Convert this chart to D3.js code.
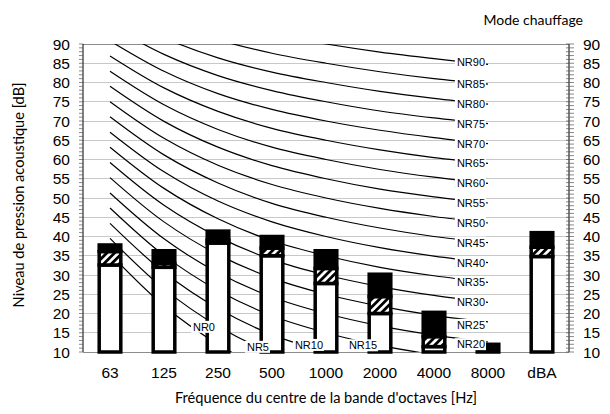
<!DOCTYPE html>
<html>
<head>
<meta charset="utf-8">
<script src="https://cdn.jsdelivr.net/npm/d3@7"></script>
<style>
  body { margin: 0; background: #fff; }
  svg { display: block; }
</style>
</head>
<body>
<script>
// octave bands + overall dBA
const categories = ["63", "125", "250", "500", "1000", "2000", "4000", "8000", "dBA"];
// three stacked levels per band (dB)
const baseLevel  = [32.6, 32.0, 38.3, 35.0, 27.8, 20.0, 11.4, 10.0, 34.8];
const hatchLevel = [36.1, 33.0, 39.1, 37.0, 31.7, 24.4, 14.0, 10.0, 37.2];
const peakLevel  = [37.8, 36.3, 41.4, 40.0, 36.3, 30.2, 20.3, 12.0, 41.0];

// NR curves, values at 63 ... 8000 Hz
const nrBands = ["63", "125", "250", "500", "1000", "2000", "4000", "8000"];
const nrNames = ["NR0", "NR5", "NR10", "NR15", "NR20", "NR25", "NR30", "NR35", "NR40", "NR45",
                 "NR50", "NR55", "NR60", "NR65", "NR70", "NR75", "NR80", "NR85", "NR90"];
const nrValues = [
  [35.5, 22.0, 12.0, 4.8, 0, -3.5, -6.1, -8.0],
  [39.5, 26.4, 16.7, 9.7, 5, 1.6, -1.0, -2.9],
  [43.4, 30.7, 21.3, 14.5, 10, 6.7, 4.2, 2.3],
  [47.4, 35.1, 26.0, 19.4, 15, 11.7, 9.3, 7.5],
  [51.3, 39.4, 30.6, 24.3, 20, 16.8, 14.4, 12.6],
  [55.3, 43.8, 35.3, 29.2, 25, 21.9, 19.5, 17.8],
  [59.2, 48.1, 39.9, 34.0, 30, 27.0, 24.7, 22.9],
  [63.2, 52.5, 44.6, 38.9, 35, 32.0, 29.8, 28.1],
  [67.1, 56.8, 49.2, 43.8, 40, 37.1, 34.9, 33.2],
  [71.1, 61.2, 53.9, 48.6, 45, 42.2, 40.0, 38.4],
  [75.0, 65.5, 58.5, 53.5, 50, 47.3, 45.2, 43.5],
  [79.0, 69.9, 63.2, 58.4, 55, 52.3, 50.3, 48.7],
  [82.9, 74.2, 67.8, 63.2, 60, 57.4, 55.4, 53.8],
  [86.9, 78.6, 72.5, 68.1, 65, 62.5, 60.5, 59.0],
  [90.8, 82.9, 77.1, 73.0, 70, 67.6, 65.7, 64.1],
  [94.8, 87.3, 81.8, 77.9, 75, 72.6, 70.8, 69.3],
  [98.7, 91.6, 86.4, 82.7, 80, 77.7, 75.9, 74.4],
  [102.7, 96.0, 91.1, 87.6, 85, 82.8, 81.0, 79.6],
  [106.6, 100.3, 95.7, 92.5, 90, 87.9, 86.2, 84.7]
];
// where each NR label sits (band index, dB); null dB = value of the curve there
const nrLabelBand  = [2, 3, 4, 5, 7, 7, 7, 7, 7, 7, 7, 7, 7, 7, 7, 7, 7, 7, 7];
const nrLabelLevel = [16.5, 11.3, 11.8, 11.7, 12.0, 17.0, null, null, null, null,
                      null, null, null, null, null, null, null, null, 85.3];

const yTicks = d3.range(10, 91, 5);

const W = 610, H = 414;
const plot = { left: 83, right: 569, top: 44, bottom: 352 };

const svg = d3.select("body").append("svg").attr("width", W).attr("height", H);
const defs = svg.append("defs");

const hatch = defs.append("pattern").attr("id", "hatch")
  .attr("patternUnits", "userSpaceOnUse").attr("width", 5.5).attr("height", 5.5)
  .attr("patternTransform", "rotate(45)");
hatch.append("rect").attr("width", 5.5).attr("height", 5.5).attr("fill", "#fff");
hatch.append("rect").attr("width", 2.8).attr("height", 5.5).attr("fill", "#000");

defs.append("clipPath").attr("id", "plotclip").append("rect")
  .attr("x", plot.left).attr("y", plot.top)
  .attr("width", plot.right - plot.left).attr("height", plot.bottom - plot.top);

const x = d3.scaleBand().domain(categories).range([plot.left, plot.right]);
const y = d3.scaleLinear().domain([10, 90]).range([plot.bottom, plot.top]);
const xc = d => x(d) + x.bandwidth() / 2;

// grid
svg.append("g").selectAll("line").data(yTicks).join("line")
  .attr("x1", plot.left).attr("x2", plot.right)
  .attr("y1", d => y(d)).attr("y2", d => y(d))
  .attr("stroke", d => (d == 90 || d == 10) ? "#8c8c8c" : "#c8c8c8")
  .attr("stroke-width", 1).attr("shape-rendering", "crispEdges");

// NR curves
const line = d3.line()
  .x((d, i) => xc(nrBands[i]))
  .y(d => y(d))
  .curve(d3.curveCatmullRom.alpha(0.5));

svg.append("g").attr("clip-path", "url(#plotclip)")
  .selectAll("path").data(nrValues).join("path")
  .attr("d", line)
  .attr("fill", "none").attr("stroke", "#000").attr("stroke-width", 1.2);

// stacked bars
const barW = x.bandwidth() * 0.4;
const barG = svg.append("g");
categories.forEach((c, i) => {
  const segs = [
    { lo: 10, hi: baseLevel[i], fill: "#fff" },
    { lo: baseLevel[i], hi: hatchLevel[i], fill: "url(#hatch)" },
    { lo: hatchLevel[i], hi: peakLevel[i], fill: "#000" }
  ];
  segs.forEach(s => {
    if (s.hi - s.lo <= 0) return;
    barG.append("rect")
      .attr("x", xc(c) - barW / 2).attr("width", barW)
      .attr("y", y(s.hi)).attr("height", y(s.lo) - y(s.hi))
      .attr("fill", s.fill).attr("stroke", "#000").attr("stroke-width", 3.5);
  });
});

// NR labels
const labG = svg.append("g");
nrNames.forEach((n, i) => {
  const b = nrLabelBand[i];
  const lv = nrLabelLevel[i] == null ? nrValues[i][b] : nrLabelLevel[i];
  const px = xc(nrBands[b]) - 3, py = y(lv);
  const g = labG.append("g");
  const t = g.append("text").attr("x", px).attr("y", py).attr("dy", "0.35em")
    .attr("text-anchor", "end")
    .style("font-family", "Liberation Sans, Arial, sans-serif").style("font-size", "11px")
    .attr("fill", "#000").text(n);
  const bb = t.node().getBBox();
  g.insert("rect", "text")
    .attr("x", bb.x - 2).attr("y", bb.y)
    .attr("width", bb.width + 3).attr("height", bb.height)
    .attr("fill", "#fff");
});

// axes
const tickFont = "Liberation Sans, Arial, sans-serif";
const yMinor = d3.range(10, 91, 1);

const leftAx = svg.append("g");
leftAx.append("line").attr("x1", plot.left).attr("x2", plot.left)
  .attr("y1", plot.top).attr("y2", plot.bottom).attr("stroke", "#000");
leftAx.selectAll(".mt").data(yMinor).join("line")
  .attr("x1", plot.left - 4).attr("x2", plot.left)
  .attr("y1", d => y(d)).attr("y2", d => y(d))
  .attr("stroke", "#555").attr("stroke-width", 0.7);
leftAx.selectAll("text").data(yTicks).join("text")
  .attr("x", plot.left - 13).attr("y", d => y(d)).attr("dy", "0.36em")
  .attr("text-anchor", "end").style("font-family", tickFont).style("font-size", "15.5px")
  .text(d => d);

const rightAx = svg.append("g");
rightAx.append("line").attr("x1", plot.right).attr("x2", plot.right)
  .attr("y1", plot.top).attr("y2", plot.bottom).attr("stroke", "#000");
rightAx.selectAll(".mt").data(yMinor).join("line")
  .attr("x1", plot.right - 3).attr("x2", plot.right + 5)
  .attr("y1", d => y(d)).attr("y2", d => y(d))
  .attr("stroke", "#555").attr("stroke-width", 0.7);
rightAx.selectAll("text").data(yTicks).join("text")
  .attr("x", plot.right + 14).attr("y", d => y(d)).attr("dy", "0.36em")
  .attr("text-anchor", "start").style("font-family", tickFont).style("font-size", "15.5px")
  .text(d => d);

svg.append("g").selectAll("text").data(categories).join("text")
  .attr("x", d => xc(d)).attr("y", 378)
  .attr("text-anchor", "middle").style("font-family", tickFont).style("font-size", "15.5px")
  .text(d => d);

// titles
const titleFont = "Lato, Open Sans, sans-serif";
svg.append("text").attr("x", 326).attr("y", 403).attr("text-anchor", "middle")
  .style("font-family", titleFont).style("font-size", "14.6px")
  .text("Fréquence du centre de la bande d'octaves [Hz]");
svg.append("text").attr("transform", "translate(24,195) rotate(-90)").attr("text-anchor", "middle")
  .style("font-family", titleFont).style("font-size", "14.6px")
  .text("Niveau de pression acoustique [dB]");
svg.append("text").attr("x", 583).attr("y", 25).attr("text-anchor", "end")
  .style("font-family", titleFont).style("font-size", "14px")
  .text("Mode chauffage");
</script>
</body>
</html>
